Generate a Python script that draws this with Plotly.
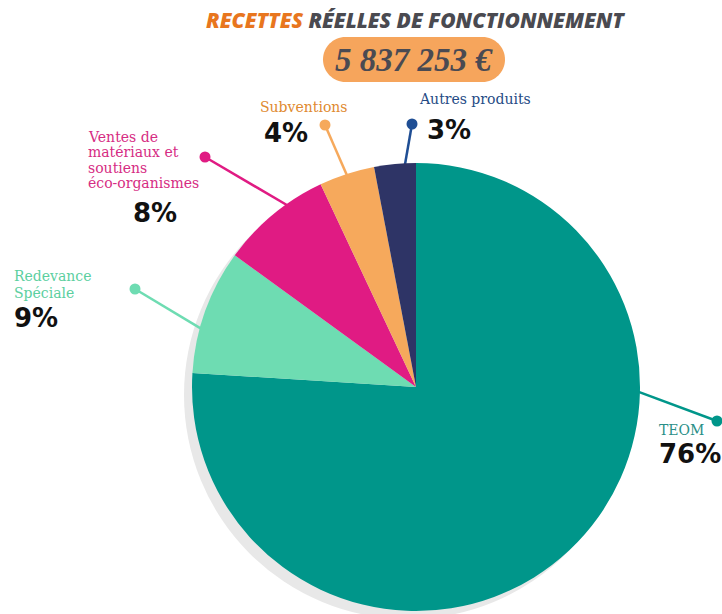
import math
import plotly.graph_objects as go

# ---------------- data ----------------
categories = ["TEOM", "Redevance Spéciale",
              "Ventes de matériaux et soutiens éco-organismes",
              "Subventions", "Autres produits"]
label_lines = [["TEOM"], ["Redevance", "Spéciale"],
               ["Ventes de", "matériaux et", "soutiens", "éco-organismes"],
               ["Subventions"], ["Autres produits"]]
shares = [76, 9, 8, 4, 3]
title_accent = "RECETTES"
title_rest = "RÉELLES DE FONCTIONNEMENT"
total_label = "5 837 253 €"

# ---------------- style ----------------
W, H = 722, 614
CX, CY, R = 416, 387, 224          # pie centre / radius in px
slice_colors = ["#00968a", "#6edcb2", "#e01b83", "#f6a95c", "#2e3466"]
dot_colors = ["#00968a", "#6edcb2", "#e01b83", "#f6a95c", "#1f4e94"]
text_colors = ["#2a8f87", "#5ccf9f", "#d62c83", "#e08a30", "#254b85"]
leader_angles = [91, 285, 325, 342, 357]           # deg clockwise from top
dot_pos = [(717, 421), (135, 289), (205, 157), (325, 125), (412, 124)]
text_pos = [(657, 430), (12, 276), (86, 137), (258, 107), (417, 99)]
line_step = [16, 16.5, 15.4, 16, 16]
pct_pos = [(657, 454, "left"), (12, 318, "left"), (155, 213, "center"),
           (262, 133, "left"), (425, 130, "left")]
SERIF = "DejaVu Serif"
SANS = "DejaVu Sans"

fig = go.Figure()

# leader lines + dots (under the pie)
for i in range(len(categories)):
    a = math.radians(leader_angles[i])
    sx = CX + (R - 4) * math.sin(a)
    sy = CY - (R - 4) * math.cos(a)
    dx, dy = dot_pos[i]
    fig.add_trace(go.Scatter(
        x=[sx, dx], y=[sy, dy], mode="lines",
        line=dict(color=slice_colors[i] if i != 4 else dot_colors[i], width=2.5),
        hoverinfo="skip", showlegend=False))
    fig.add_trace(go.Scatter(
        x=[dx], y=[dy], mode="markers",
        marker=dict(size=11, color=dot_colors[i], opacity=1, line=dict(width=0)),
        hoverinfo="skip", showlegend=False))

# pie
fig.add_trace(go.Pie(
    labels=categories, values=shares, sort=False, direction="clockwise",
    rotation=0, textinfo="none", hoverinfo="label+percent",
    marker=dict(colors=slice_colors, line=dict(width=0)),
    domain=dict(x=[(CX - R) / W, (CX + R) / W],
                y=[1 - (CY + R) / H, 1 - (CY - R) / H]),
    showlegend=False))

# shadow circle behind the pie
fig.add_shape(type="circle", xref="x", yref="y", layer="below",
              x0=CX - R - 8, x1=CX + R - 8, y0=CY - R + 8, y1=CY + R + 8,
              fillcolor="#e8e8e8", line=dict(width=0))

# pill behind the total
px0, px1, py0, py1 = 323, 505, 37, 82
r = (py1 - py0) / 2
k = 0.5523 * r
ym = (py0 + py1) / 2
path = (f"M {px0+r} {py0} L {px1-r} {py0} "
        f"C {px1-r+k} {py0}, {px1} {ym-k}, {px1} {ym} "
        f"C {px1} {ym+k}, {px1-r+k} {py1}, {px1-r} {py1} "
        f"L {px0+r} {py1} "
        f"C {px0+r-k} {py1}, {px0} {ym+k}, {px0} {ym} "
        f"C {px0} {ym-k}, {px0+r-k} {py0}, {px0+r} {py0} Z")
fig.add_shape(type="path", xref="x", yref="y", path=path, layer="below",
              fillcolor="#f6a55c", line=dict(width=0))

ann = []
ann.append(dict(x=415, y=20, xref="x", yref="y", showarrow=False,
                xanchor="center", yanchor="middle",
                text=f"<span style='color:#e8761e'>{title_accent}</span> {title_rest}",
                font=dict(family="Open Sans", size=21, color="#4a4a50", weight=800, style="italic")))
ann.append(dict(x=414, y=60, xref="x", yref="y", showarrow=False,
                xanchor="center", yanchor="middle", text=total_label,
                font=dict(family="Liberation Serif", size=33, color="#4a4a52", weight=700, style="italic")))

for i in range(len(categories)):
    tx, ty = text_pos[i]
    for j, ln in enumerate(label_lines[i]):
        ann.append(dict(x=tx, y=ty + j * line_step[i], xref="x", yref="y",
                        showarrow=False, xanchor="left", yanchor="middle",
                        text=ln, font=dict(family=SERIF, size=14, color=text_colors[i])))
    ppx, ppy, anc = pct_pos[i]
    ann.append(dict(x=ppx, y=ppy, xref="x", yref="y", showarrow=False,
                    xanchor=anc, yanchor="middle", text=f"{shares[i]}%",
                    font=dict(family=SANS, size=26, color="#111111", weight=700)))

fig.update_layout(
    width=W, height=H, margin=dict(l=0, r=0, t=0, b=0),
    paper_bgcolor="white", plot_bgcolor="white", showlegend=False,
    xaxis=dict(range=[0, W], visible=False, fixedrange=True),
    yaxis=dict(range=[H, 0], visible=False, fixedrange=True),
    annotations=ann)

fig.write_html("out.html", config={"displayModeBar": False},
               post_script="document.body.style.margin='0';")
